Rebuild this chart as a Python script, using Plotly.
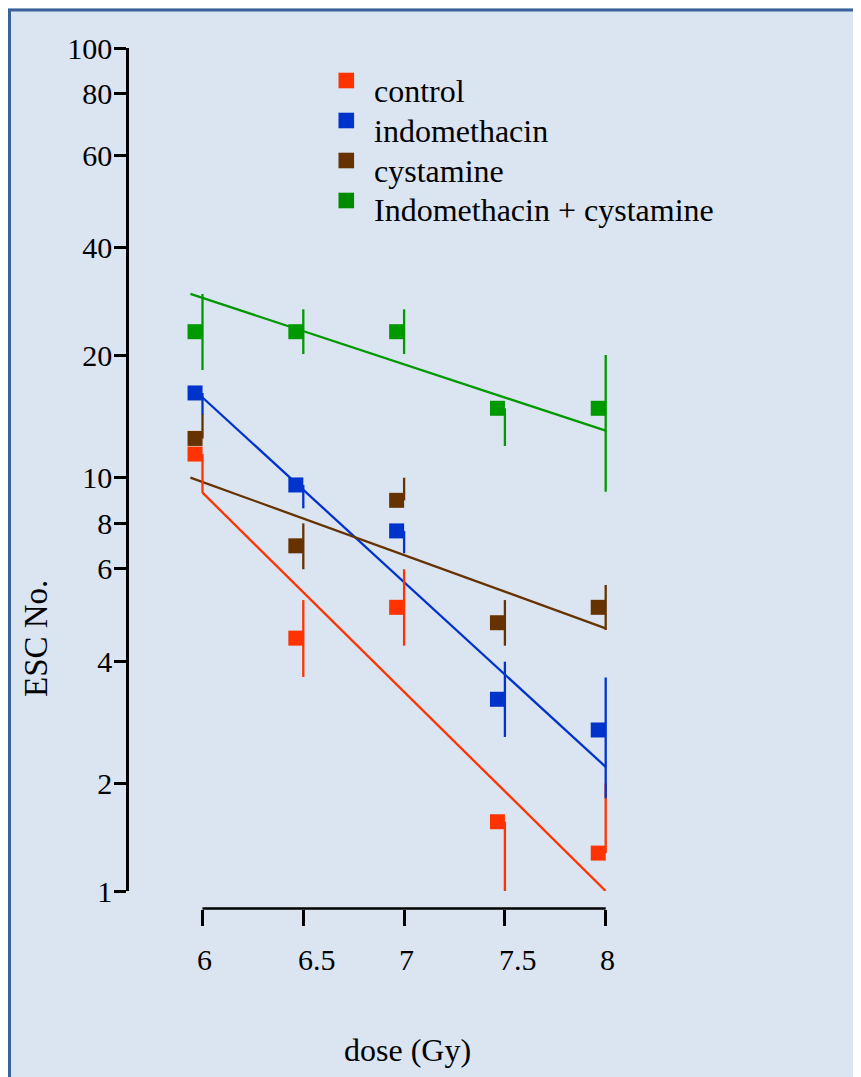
import plotly.graph_objects as go

# ---------------- data ----------------
dose = [6.0, 6.5, 7.0, 7.5, 8.0]
dose_labels = ["6", "6.5", "7", "7.5", "8"]

series_names = ["control", "indomethacin", "cystamine", "Indomethacin + cystamine"]
series_colors = ["#ff3300", "#0033cc", "#663300", "#009900"]
legend_colors = ["#ff3300", "#0033cc", "#663300", "#008a00"]

# ESC No. (mean, upper end of error bar, lower end of error bar)
control_mean = [10.88, 3.98, 4.71, 1.46, 1.23]
control_upper = [10.88, 4.90, 5.80, 1.46, 1.80]
control_lower = [8.81, 3.22, 3.82, 1.00, 1.23]

indo_mean = [15.19, 9.19, 7.15, 2.85, 2.41]
indo_upper = [15.19, 9.19, 7.15, 3.50, 3.21]
indo_lower = [13.47, 8.09, 6.33, 2.32, 1.66]

cyst_mean = [11.85, 6.59, 8.45, 4.33, 4.71]
cyst_upper = [13.50, 7.45, 9.56, 4.90, 5.32]
cyst_lower = [11.85, 5.80, 8.45, 3.82, 4.16]

combo_mean = [21.23, 21.23, 21.23, 13.97, 13.97]
combo_upper = [26.09, 23.99, 23.99, 13.97, 18.70]
combo_lower = [17.22, 18.79, 18.79, 11.37, 8.85]

# fitted regression lines (start dose, end dose, start value, end value)
fit_x_start = [6.0, 6.0, 5.94, 5.94]
fit_x_end = [8.0, 8.0, 8.0, 8.0]
fit_y_start = [8.81, 14.82, 9.57, 26.09]
fit_y_end = [1.00, 1.97, 4.20, 12.36]

y_tick_labels = ["1", "2", "4", "6", "8", "10", "20", "40", "60", "80", "100"]
y_tick_positions = [1.0, 1.801, 3.513, 5.807, 7.456, 9.583, 18.69, 33.59, 55.53, 77.8, 100.0]

means = [control_mean, indo_mean, cyst_mean, combo_mean]
uppers = [control_upper, indo_upper, cyst_upper, combo_upper]
lowers = [control_lower, indo_lower, cyst_lower, combo_lower]

# ---------------- layout constants ----------------
OFF = 8                      # page body margin
W, H = 861, 1077
FONT = "Liberation Serif"
BG = "#dbe5f1"
FRAME = "#3a6298"
marker_offset = 0.037  # squares sit just left of their error bar
LW = 2.3


def px_x(p):
    return (p - OFF) / W


def px_y(p):
    return 1 - (p - OFF) / H


x0_px, x1_px = 202.5, 605.7
ppu = (x1_px - x0_px) / 2.0
x_range = [5.9, 8.1]
x_dom = [px_x(x0_px - (6.0 - x_range[0]) * ppu), px_x(x1_px + (x_range[1] - 8.0) * ppu)]

fig = go.Figure()

# fit lines
for i in range(4):
    fig.add_trace(go.Scatter(
        x=[fit_x_start[i], fit_x_end[i]], y=[fit_y_start[i], fit_y_end[i]],
        mode="lines", line=dict(color=series_colors[i], width=LW),
        showlegend=False, hoverinfo="skip"))

# error bars
for i in range(4):
    plus = [u - m for u, m in zip(uppers[i], means[i])]
    minus = [m - l for m, l in zip(means[i], lowers[i])]
    fig.add_trace(go.Scatter(
        x=dose, y=means[i], mode="markers",
        marker=dict(size=1, color="rgba(0,0,0,0)"),
        error_y=dict(type="data", symmetric=False, array=plus, arrayminus=minus,
                     color=series_colors[i], thickness=LW, width=0),
        showlegend=False, hoverinfo="skip", cliponaxis=False))

# markers
for i in range(4):
    fig.add_trace(go.Scatter(
        x=[d - marker_offset for d in dose], y=means[i], mode="markers",
        name=series_names[i], showlegend=False,
        marker=dict(symbol="square", size=15, color=series_colors[i], line=dict(width=0)),
        cliponaxis=False))

# legend (drawn manually to match the original layout)
legend_sq_x = 346.3
legend_sq_y = [80.5, 120.5, 160.5, 200.5]
legend_text_y = [91.0, 130.6, 170.6, 210.4]
half = 7.8
shapes = [
    dict(type="rect", xref="paper", yref="paper",
         x0=px_x(9.5), x1=1.05, y0=-0.05, y1=px_y(10),
         fillcolor=BG, line=dict(color=FRAME, width=3), layer="below"),
    dict(type="line", xref="x", yref="paper",
         x0=dose[0], x1=dose[-1], y0=px_y(908.6), y1=px_y(908.6),
         line=dict(color="black", width=2.5)),
]
annotations = [
    dict(text="dose (Gy)", xref="paper", yref="paper", x=px_x(407), y=px_y(1050),
         xanchor="center", yanchor="middle", showarrow=False,
         font=dict(family=FONT, size=32, color="black")),
    dict(text="ESC No.", xref="paper", yref="paper", x=px_x(36), y=px_y(639),
         xanchor="center", yanchor="middle", showarrow=False, textangle=-90,
         font=dict(family=FONT, size=33, color="black")),
]
# x tick labels: left-aligned just before each tick, as in the original
for d, lab in zip(dose, dose_labels):
    annotations.append(dict(text=lab, xref="x", yref="paper", x=d, y=px_y(959.5),
                            xanchor="left", yanchor="middle", xshift=-7.5,
                            showarrow=False,
                            font=dict(family=FONT, size=30, color="black")))
for i in range(4):
    shapes.append(dict(type="rect", xref="paper", yref="paper",
                       x0=px_x(legend_sq_x - half), x1=px_x(legend_sq_x + half),
                       y0=px_y(legend_sq_y[i] + half), y1=px_y(legend_sq_y[i] - half),
                       fillcolor=legend_colors[i], line=dict(width=0)))
    annotations.append(dict(text=series_names[i], xref="paper", yref="paper",
                            x=px_x(371.5), y=px_y(legend_text_y[i]),
                            xanchor="left", yanchor="middle", showarrow=False,
                            font=dict(family=FONT, size=32, color="black")))

fig.update_layout(
    template="none",
    width=W, height=H, autosize=False,
    margin=dict(l=0, r=0, t=0, b=0, pad=0, autoexpand=False),
    paper_bgcolor=BG, plot_bgcolor="rgba(0,0,0,0)",
    font=dict(family=FONT, size=30, color="black"),
    showlegend=False,
    xaxis=dict(type="linear", range=x_range, domain=x_dom, anchor="free",
               position=px_y(908.6), showline=False, showgrid=False, zeroline=False,
               automargin=False, showticklabels=False,
               ticks="outside", ticklen=16, tickwidth=2.5, tickcolor="black",
               tickvals=dose, ticktext=dose_labels),
    yaxis=dict(type="log", range=[0, 2], domain=[px_y(891), px_y(48)], anchor="free",
               position=px_x(127), showline=True, linewidth=2.5, linecolor="black",
               showgrid=False, zeroline=False, automargin=False,
               ticks="outside", ticklen=12, tickwidth=2.5, tickcolor="black",
               tickvals=y_tick_positions, ticktext=y_tick_labels, ticklabelstandoff=-4,
               tickfont=dict(family=FONT, size=30, color="black")),
    shapes=shapes,
    annotations=annotations,
)

fig.write_html("out.html")
